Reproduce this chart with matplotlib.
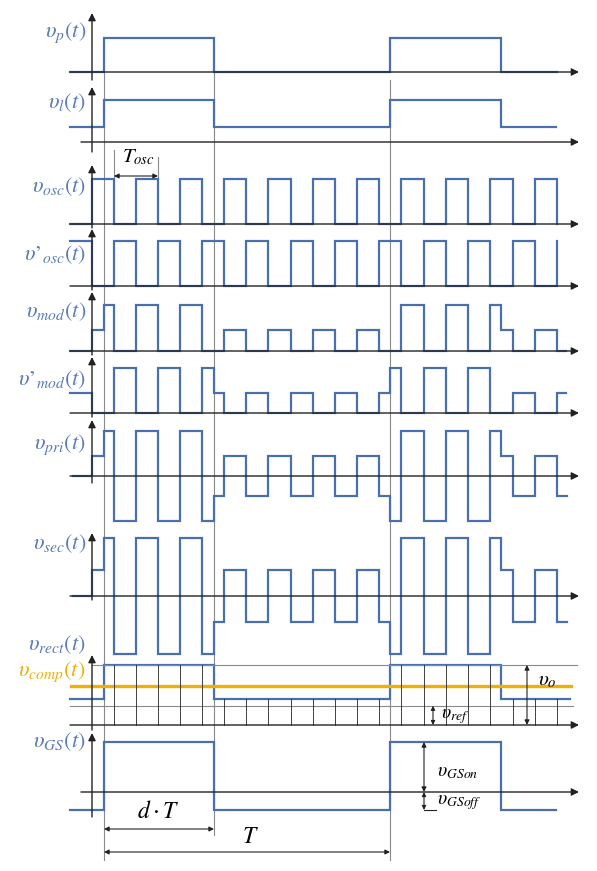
import numpy as np
import matplotlib.pyplot as plt

plt.rcParams["mathtext.fontset"] = "stix"
plt.rcParams["font.family"] = "STIXGeneral"

BLUE = "#4a6fae"
LBLUE = "#5b7bb8"
ORANGE = "#f0b000"
GUIDE = "#8a8a8a"
AXIS = "#222222"

H = 0.45  # reduced amplitude while v_l is low

# edge times (horizontal drawing units) and levels of every trace
osc_ticks = [114, 136, 158, 180, 202, 224, 246, 268, 291, 313, 335, 357,
             379, 401, 424, 446, 468, 490, 513, 535, 557]

vp_t = [70, 104, 214, 390, 501, 557]
vp_lv = [0, 1, 0, 1, 0]

vl_t = [70, 104, 214, 390, 501, 556]
vl_lv = [0.36, 1, 0.36, 1, 0.36]

vosc_t = [70, 92, 114, 136, 158, 180, 202, 224, 246, 268, 291, 313, 335,
          357, 379, 401, 424, 446, 468, 490, 513, 535, 557, 557]
vosc_lv = [0, 1, 0, 1, 0, 1, 0, 1, 0, 1, 0, 1, 0, 1, 0, 1, 0, 1, 0, 1, 0, 1, 0]
vosc2_lv = [1, 0, 1, 0, 1, 0, 1, 0, 1, 0, 1, 0, 1, 0, 1, 0, 1, 0, 1, 0, 1, 0, 1]

vmod_t = [70, 92, 104, 114, 136, 158, 180, 202, 224, 246, 268, 291, 313,
          335, 357, 379, 401, 424, 446, 468, 490, 501, 513, 535, 557, 566]
vmod_lv = [0, H, 1, 0, 1, 0, 1, 0, H, 0, H, 0, H, 0, H, 0, 1, 0, 1, 0, 1,
           H, 0, H, 0]

vmod2_t = [70, 92, 114, 136, 158, 180, 202, 214, 224, 246, 268, 291, 313,
           335, 357, 379, 390, 401, 424, 446, 468, 490, 513, 535, 557, 566]
vmod2_lv = [H, 0, 1, 0, 1, 0, 1, H, 0, H, 0, H, 0, H, 0, H, 1, 0, 1, 0, 1,
            0, H, 0, H]

vpri_t = [73, 92, 104, 114, 136, 158, 180, 202, 214, 224, 246, 268, 291,
          313, 335, 357, 379, 390, 401, 424, 446, 468, 490, 501, 513, 535,
          557, 567]
vpri_lv = [0, H, 1, -1, 1, -1, 1, -1, -H, H, -H, H, -H, H, -H, H, -H, -1,
           1, -1, 1, -1, 1, H, -H, H, -H]

vrect_t = [70, 104, 214, 390, 501, 570]
vrect_lv = [0.43, 1, 0.43, 1, 0.43]
vcomp_level = 0.65
vref_level = 0.32

vgs_t = [70, 104, 214, 390, 501, 556]
vgs_lv = [-0.36, 1, -0.36, 1, -0.36]

# layout: label, baseline y, amplitude, y-axis (bottom, tip), x-axis start
panels = [
    (r"$\upsilon_p(t)$", 72, 34, (80, 13), 70, vp_t, vp_lv),
    (r"$\upsilon_l(t)$", 142, 42, (152, 87), 81, vl_t, vl_lv),
    (r"$\upsilon_{osc}(t)$", 224, 45, (228, 165), 70, vosc_t, vosc_lv),
    ("$\\upsilon\u2019_{osc}(t)$", 286, 45, (290, 229), 70, vosc_t, vosc2_lv),
    (r"$\upsilon_{mod}(t)$", 351, 46, (355, 292), 70, vmod_t, vmod_lv),
    ("$\\upsilon\u2019_{mod}(t)$", 413, 45, (417, 357), 70, vmod2_t, vmod2_lv),
    (r"$\upsilon_{pri}(t)$", 476, 45, (483, 420), 70, vpri_t, vpri_lv),
    (r"$\upsilon_{sec}(t)$", 596, 58, (600, 533), 70, vpri_t, vpri_lv),
    (r"$\upsilon_{rect}(t)$", 725, 60, (730, 655), 70, vrect_t, vrect_lv),
    (r"$\upsilon_{GS}(t)$", 792, 50, (817, 733), 81, vgs_t, vgs_lv),
]
label_y = [33, 103, 187, 255, 312, 380, 445, 544, 645, 742]


def steps(edges, levels):
    xs, ys = [], []
    for i, lv in enumerate(levels):
        xs += [edges[i], edges[i + 1]]
        ys += [lv, lv]
    return np.array(xs), np.array(ys)


def arrow(ax, x0, y0, x1, y1, style="-|>", ms=11, lw=1.0):
    ax.annotate("", xy=(x1, y1), xytext=(x0, y0),
                arrowprops=dict(arrowstyle=style, color=AXIS, lw=lw,
                                mutation_scale=ms, shrinkA=0, shrinkB=0))


fig = plt.figure(figsize=(5.97, 8.71), dpi=100)
ax = fig.add_axes([0, 0, 1, 1])
ax.set_xlim(0, 597)
ax.set_ylim(871, 0)
ax.axis("off")

# long guide lines at the switching instants
ax.plot([104, 104], [72, 860], color=GUIDE, lw=0.8)
ax.plot([214, 214], [72, 835], color=GUIDE, lw=0.8)
ax.plot([390, 390], [80, 860], color=GUIDE, lw=0.8)
ax.plot([114, 114], [150, 179], color=GUIDE, lw=0.8)
ax.plot([158, 158], [157, 179], color=GUIDE, lw=0.8)

for (lab, base, amp, (yb, yt), x0, t, lv), ly in zip(panels, label_y):
    arrow(ax, x0, base, 579, base)
    arrow(ax, 92, yb, 92, yt)
    xs, ys = steps(t, lv)
    ax.plot(xs, base - amp * ys, color=BLUE, lw=1.6, solid_joinstyle="miter")
    ax.text(86, ly, lab, color=LBLUE, fontsize=16, ha="right", va="center")

# rectifier / comparator panel
rb, ra = 725, 60
ax.plot([92, 577], [rb - ra, rb - ra], color=GUIDE, lw=0.8)
ax.plot([70, 573], [rb - ra * vref_level] * 2, color=GUIDE, lw=0.8)
ax.plot([71, 571], [rb - ra * vcomp_level] * 2, color=ORANGE, lw=2.4)
ax.text(85, 672, r"$\upsilon_{comp}(t)$", color=ORANGE, fontsize=16,
        ha="right", va="center")
for x in osc_ticks:
    high = any(vrect_t[i] <= x < vrect_t[i + 1] and vrect_lv[i] == 1
               for i in range(len(vrect_lv)))
    top = rb - ra * (1 if high else vrect_lv[0])
    ax.plot([x, x], [top, rb], color=AXIS, lw=0.6)

# dimension arrows and annotations
arrow(ax, 114, 176, 158, 176, style="<|-|>", ms=7, lw=0.8)
ax.text(138, 157, r"$T_{osc}$", fontsize=15, ha="center", va="center")
arrow(ax, 527, 665, 527, 725, style="<|-|>", ms=7, lw=0.8)
ax.text(547, 680, r"$\upsilon_o$", fontsize=15, ha="center", va="center")
arrow(ax, 433, rb - ra * vref_level, 433, 725, style="<|-|>", ms=6, lw=0.8)
ax.text(455, 717, r"$\upsilon_{ref}$", fontsize=14, ha="center", va="center")

arrow(ax, 424, 742, 424, 792, style="<|-|>", ms=7, lw=0.8)
arrow(ax, 424, 792, 424, 810, style="<|-|>", ms=6, lw=0.8)
ax.plot([424, 436], [810, 810], color=AXIS, lw=0.8)
ax.text(437, 772, r"$\upsilon_{GSon}$", fontsize=14, ha="left", va="center")
ax.text(437, 803, r"$\upsilon_{GSoff}$", fontsize=14, ha="left", va="center")

arrow(ax, 104, 829, 214, 829, style="<|-|>", ms=7, lw=0.8)
ax.text(158, 812, r"$d\cdot T$", fontsize=17, ha="center", va="center")
arrow(ax, 104, 852, 390, 852, style="<|-|>", ms=7, lw=0.8)
ax.text(250, 837, r"$T$", fontsize=17, ha="center", va="center")

fig.savefig("out.png", dpi=100)
